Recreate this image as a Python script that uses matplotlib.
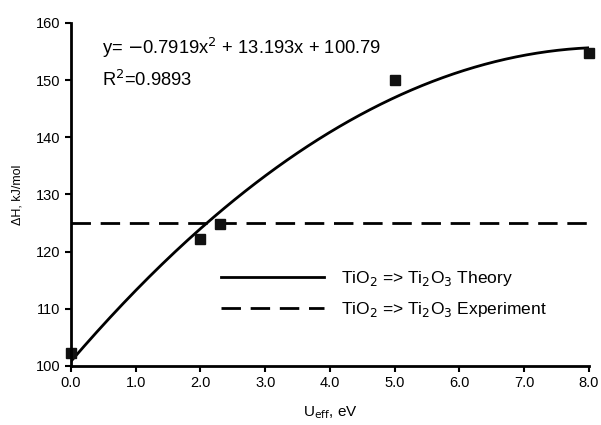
import numpy as np
import matplotlib.pyplot as plt

plt.rcParams['font.family'] = ['Liberation Sans', 'DejaVu Sans']

# measured points
u_eff = [0.0, 2.0, 2.3, 5.0, 8.0]
dh = [102.3, 122.2, 124.8, 150.1, 154.7]

# trendline coefficients as printed on the chart
fit_coef = [-0.7919, 13.193, 100.79]
experiment = 125.0

fig = plt.figure(figsize=(6.01, 4.25), dpi=100)
ax = fig.add_axes([0.118, 0.139, 0.862, 0.807])

xs = np.linspace(0, 8, 200)
ax.plot(xs, np.polyval(fit_coef, xs), color='black', lw=2,
        label=r'TiO$_2$ => Ti$_2$O$_3$ Theory')
ax.axhline(experiment, color='black', lw=2, dashes=(7, 3.5),
           label=r'TiO$_2$ => Ti$_2$O$_3$ Experiment')
ax.plot(u_eff, dh, 's', color='#111111', ms=7, clip_on=False)

ax.set_xlim(0, 8)
ax.set_ylim(100, 160)
ax.set_xticks(np.arange(0, 8.1, 1))
ax.set_xticklabels([f'{v:.1f}' for v in np.arange(0, 8.1, 1)])
ax.set_yticks(np.arange(100, 161, 10))
for s in ['top', 'right']:
    ax.spines[s].set_visible(False)
for s in ['left', 'bottom']:
    ax.spines[s].set_linewidth(2)
ax.tick_params(axis='both', width=1.5, length=4, labelsize=10.5)

ax.set_xlabel(r'U$_{\mathrm{eff}}$, eV', fontsize=11, labelpad=10)
ax.set_ylabel(r'ΔH, kJ/mol', fontsize=9, labelpad=9)

ax.text(0.48, 154.5, r'y= $-$0.7919x$^2$ + 13.193x + 100.79', fontsize=13.2)
ax.text(0.48, 148.9, r'R$^2$=0.9893', fontsize=13.2)

ax.legend(loc='center left', bbox_to_anchor=(0.26, 0.21), frameon=False,
          fontsize=12.5, handlelength=5.9, handletextpad=1.0, labelspacing=0.7)

fig.savefig('out.png', dpi=100)
